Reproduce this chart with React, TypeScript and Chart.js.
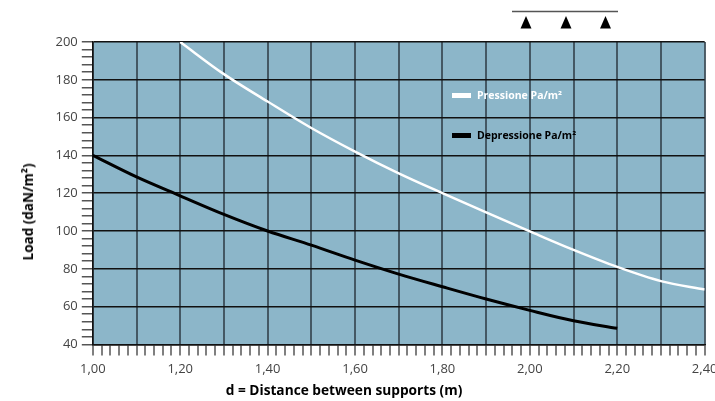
import React, { useEffect, useRef } from "react";
import { Chart, registerables } from "chart.js";

Chart.register(...registerables);

// ---- data ----
const pressioneLabel = "Pressione Pa/m²";
const depressioneLabel = "Depressione Pa/m²";
const pressioneD = [1.2, 1.3, 1.4, 1.5, 1.6, 1.7, 1.8, 1.9, 2.0, 2.1, 2.2, 2.3, 2.4];
const pressioneLoad = [200, 183, 168.5, 154.5, 142, 130.5, 120, 109.8, 99.8, 90, 81, 73.5, 69];
const depressioneD = [1.0, 1.1, 1.2, 1.3, 1.4, 1.5, 1.6, 1.7, 1.8, 1.9, 2.0, 2.1, 2.2];
const depressioneLoad = [140, 128.6, 118.6, 108.8, 100, 92.5, 84.6, 77.2, 70.5, 64, 58, 52.5, 48.5];
const xMin = 1.0;
const xMax = 2.4;
const yMin = 40;
const yMax = 200;
const xTitle = "d = Distance between supports (m)";
const yTitle = "Load (daN/m²)";

const FONT = "'Open Sans', 'Noto Sans', sans-serif";
const PLOT_BG = "#8cb6c9";

const bgPlugin = {
  id: "plotBg",
  beforeDraw(chart: any) {
    const { ctx, chartArea } = chart;
    if (!chartArea) return;
    ctx.save();
    ctx.fillStyle = PLOT_BG;
    ctx.fillRect(chartArea.left, chartArea.top, chartArea.right - chartArea.left, chartArea.bottom - chartArea.top);
    ctx.restore();
  },
};

export default function App() {
  const ref = useRef<HTMLCanvasElement | null>(null);

  useEffect(() => {
    if (!ref.current) return;
    const chart = new Chart(ref.current, {
      type: "line",
      data: {
        datasets: [
          {
            label: pressioneLabel,
            data: pressioneD.map((d, i) => ({ x: d, y: pressioneLoad[i] })),
            borderColor: "#ffffff",
            borderWidth: 2.5,
            pointRadius: 0,
            cubicInterpolationMode: "monotone",
            fill: false,
          },
          {
            label: depressioneLabel,
            data: depressioneD.map((d, i) => ({ x: d, y: depressioneLoad[i] })),
            borderColor: "#000000",
            borderWidth: 3,
            pointRadius: 0,
            cubicInterpolationMode: "monotone",
            fill: false,
          },
        ],
      },
      options: {
        animation: false,
        responsive: false,
        devicePixelRatio: 1,
        layout: { padding: { left: 51.5, top: 42, bottom: 17, right: 0 } },
        plugins: { legend: { display: false }, tooltip: { enabled: false } },
        scales: {
          x: {
            type: "linear",
            min: xMin,
            max: xMax,
            ticks: {
              stepSize: 0.02,
              autoSkip: false,
              maxRotation: 0,
              minRotation: 0,
              padding: 6.5,
              color: "#444",
              font: { family: FONT, size: 13 },
              callback: (v: any) => {
                const n = Math.round(Number(v) * 100);
                return n % 20 === 0 ? (n / 100).toFixed(2).replace(".", ",") : "";
              },
            },
            grid: {
              color: (c: any) => {
                const n = Math.round(c.tick.value * 100);
                return n % 10 === 0 ? "rgba(55,72,82,0.85)" : "rgba(0,0,0,0)";
              },
              lineWidth: 2,
              tickColor: "#555",
              tickWidth: 1.5,
              tickLength: 11,
            },
            border: { display: true, color: "#111", width: 1.5 },
          },
          y: {
            type: "linear",
            min: yMin,
            max: yMax,
            ticks: {
              stepSize: 4,
              autoSkip: false,
              padding: 4,
              color: "#444",
              font: { family: FONT, size: 13 },
              callback: (v: any) => {
                const n = Math.round(Number(v));
                return n % 20 === 0 ? String(n) : "";
              },
            },
            grid: {
              color: (c: any) => {
                const n = Math.round(c.tick.value);
                return n % 20 === 0 ? "#111" : "rgba(0,0,0,0)";
              },
              lineWidth: 1.5,
              tickColor: "#555",
              tickWidth: 1.5,
              tickLength: 11,
            },
            border: { display: true, color: "#111", width: 1.5 },
          },
        },
      },
      plugins: [bgPlugin],
    } as any);
    return () => chart.destroy();
  }, []);

  return (
    <div
      style={{
        position: "fixed",
        left: 0,
        top: 0,
        width: 715,
        height: 401,
        overflow: "hidden",
        background: "#fff",
      }}
    >
      <canvas
        ref={ref}
        width={724}
        height={401}
        style={{ position: "absolute", left: 0, top: 0, width: 724, height: 401 }}
      />
      {/* support icon */}
      <svg
        width={715}
        height={40}
        style={{ position: "absolute", left: 0, top: 0 }}
      >
        <line x1={512} y1={11.5} x2={618} y2={11.5} stroke="#555" strokeWidth={1.5} />
        {[526, 566, 605.5].map((cx) => (
          <polygon key={cx} points={`${cx},16 ${cx - 5.5},28.5 ${cx + 5.5},28.5`} fill="#000" />
        ))}
      </svg>
      {/* legend */}
      <div style={{ position: "absolute", left: 452, top: 88, display: "flex", alignItems: "center" }}>
        <div style={{ width: 19, height: 5, background: "#fff", marginRight: 6 }} />
        <span style={{ fontFamily: FONT, fontWeight: 700, fontSize: 10.5, color: "#fff", lineHeight: "14px" }}>
          {pressioneLabel}
        </span>
      </div>
      <div style={{ position: "absolute", left: 452, top: 128, display: "flex", alignItems: "center" }}>
        <div style={{ width: 19, height: 5, background: "#000", marginRight: 6 }} />
        <span style={{ fontFamily: FONT, fontWeight: 700, fontSize: 10.5, color: "#000", lineHeight: "14px" }}>
          {depressioneLabel}
        </span>
      </div>
      {/* axis titles */}
      <div
        style={{
          position: "absolute",
          left: 344,
          top: 381,
          transform: "translateX(-50%)",
          whiteSpace: "nowrap",
          fontFamily: FONT,
          fontWeight: 700,
          fontSize: 13.7,
          color: "#000",
          lineHeight: "18px",
        }}
      >
        {xTitle}
      </div>
      <div
        style={{
          position: "absolute",
          left: 28,
          top: 212,
          transform: "translate(-50%, -50%) rotate(-90deg)",
          whiteSpace: "nowrap",
          fontFamily: FONT,
          fontWeight: 700,
          fontSize: 13.5,
          color: "#000",
          lineHeight: "18px",
        }}
      >
        {yTitle}
      </div>
    </div>
  );
}
